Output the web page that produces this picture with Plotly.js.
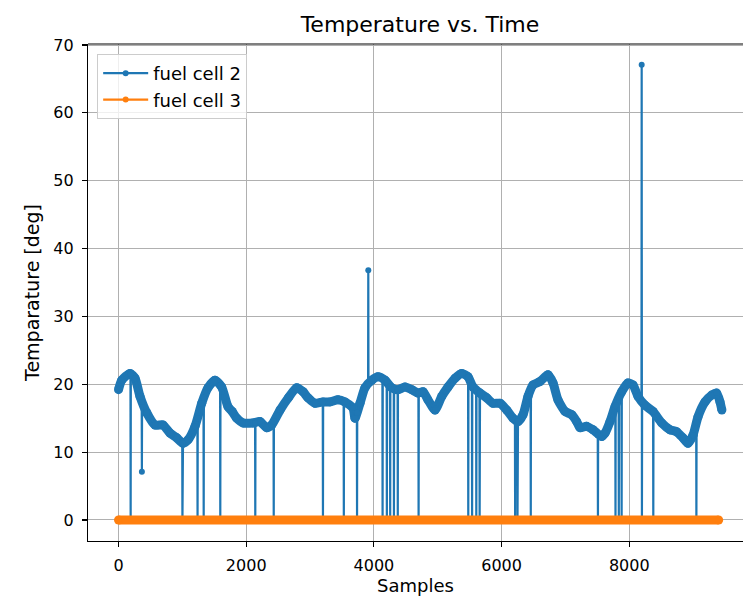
<!DOCTYPE html>
<html>
<head>
<meta charset="utf-8">
<script src="https://cdn.plot.ly/plotly-3.0.1.min.js"></script>
<style>html,body{margin:0;padding:0;background:#fff;}#chart{width:743px;height:600px;}</style>
</head>
<body>
<div id="chart"></div>
<script>
// Fuel cell 2 smooth temperature band (sample, value)
const curveSamples = [0,50,180,258,337,442,572,697,807,912,1010,1088,1198,1303,1402,1511,1616,1715,1780,1851,1950,2107,2216,2321,2399,2530,2659,2791,2890,2968,3078,3203,3312,3438,3547,3672,3704,3782,3860,3966,4064,4174,4279,4377,4487,4592,4691,4769,4847,4957,5062,5161,5271,5375,5474,5552,5662,5767,5865,5975,6080,6179,6257,6335,6413,6492,6601,6727,6805,6883,6993,7098,7176,7228,7333,7431,7568,7620,7698,7776,7881,7980,8058,8137,8246,8371,8507,8637,8742,8841,8919,8998,9076,9186,9290,9369,9421,9450];
const curveValues  = [19.2,20.6,21.6,20.9,18.2,15.8,14.0,14.0,12.8,12.1,11.3,11.8,13.8,17.2,19.5,20.6,19.6,16.7,16.0,15.0,14.3,14.3,14.5,13.6,14.0,16.2,18.0,19.5,18.9,18.0,17.2,17.4,17.4,17.7,17.4,16.5,15.0,17.2,19.5,20.6,21.1,20.6,19.5,19.2,19.6,19.2,18.7,18.9,17.7,16.2,18.2,19.6,20.9,21.6,21.1,19.6,18.7,18.0,17.2,17.2,16.2,15.0,14.5,15.5,18.2,19.9,20.4,21.4,20.2,17.7,16.0,15.5,14.5,13.6,13.8,13.3,12.3,12.8,14.5,16.7,18.9,20.2,19.9,18.2,16.9,16.0,14.3,13.3,13.0,12.1,11.3,12.5,15.2,17.4,18.4,18.7,17.4,16.2];

// Samples where fuel cell 2 drops to 0, and the band level just around each drop
const dropoutSamples = [190,1001,1238,1334,1594,2142,2431,3202,3529,3736,4136,4203,4255,4314,4374,4700,5478,5538,5604,5656,6212,6249,6457,7509,7784,7836,7880,8198,8376,9051];
const dropoutLevels  = [21.5,11.3,15.0,18.0,19.8,14.3,14.5,17.4,17.4,15.8,20.8,20.3,19.7,19.3,19.2,18.7,21.0,19.9,19.2,18.7,14.8,14.6,19.3,12.5,16.9,18.0,18.9,17.5,16.0,14.4];

// Isolated outliers (sample, value, band level around it)
const spikeSamples = [366,3912,8194];
const spikeValues  = [7.1,36.8,67.1];
const spikeLevels  = [17.4,20.0,17.5];

// Fuel cell 3: constant zero over the whole run
const fc3Samples = [0,9400];
const fc3Values  = [0,0];

const xTicks = [0,2000,4000,6000,8000];
const yTicks = [0,10,20,30,40,50,60,70];

const BLUE = '#1f77b4', ORANGE = '#ff7f0e';
const FONT = 'DejaVu Sans, sans-serif';

// merge into a single sample-ordered series for fuel cell 2
const pts = [];
curveSamples.forEach((s,i)=>pts.push([s,curveValues[i]]));
dropoutSamples.forEach((s,i)=>{pts.push([s-3,dropoutLevels[i]]);pts.push([s,0]);pts.push([s+3,dropoutLevels[i]]);});
spikeSamples.forEach((s,i)=>{pts.push([s-3,spikeLevels[i]]);pts.push([s,spikeValues[i]]);pts.push([s+3,spikeLevels[i]]);});
pts.sort((a,b)=>a[0]-b[0]);
const fc2x = pts.map(p=>p[0]), fc2y = pts.map(p=>p[1]);

const traces = [
  {x:curveSamples, y:curveValues, mode:'lines+markers', line:{color:BLUE,width:9,shape:'spline',smoothing:0.6},
   marker:{color:BLUE,size:9}, showlegend:false, hoverinfo:'skip'},
  {x:fc2x, y:fc2y, mode:'lines+markers', name:'fuel cell 2', legendgroup:'a',
   line:{color:BLUE,width:2.2}, marker:{color:BLUE,size:6}},
  {x:fc3Samples, y:fc3Values, mode:'lines+markers', line:{color:ORANGE,width:9}, marker:{color:ORANGE,size:9}, showlegend:false, hoverinfo:'skip'},
  {x:fc3Samples, y:fc3Values, mode:'lines+markers', name:'fuel cell 3', legendgroup:'b',
   line:{color:ORANGE,width:2.2}, marker:{color:ORANGE,size:6}}
];

const axisCommon = {
  showgrid:true, gridcolor:'#b0b0b0', gridwidth:1, zeroline:false,
  showline:true, linecolor:'#000', linewidth:1.2, mirror:false,
  ticks:'outside', ticklen:5, tickwidth:1.2, tickcolor:'#000', ticklabelstandoff:5,
  tickfont:{family:FONT,size:16,color:'#000'}
};

const layout = {
  width:743, height:600,
  paper_bgcolor:'#fff', plot_bgcolor:'#fff',
  margin:{l:88,r:0,t:44,b:59},
  font:{family:FONT,color:'#000'},
  title:{text:'Temperature vs. Time', font:{family:FONT,size:22,color:'#000'},
         x:420/743, xref:'container', xanchor:'center', y:1-24/600, yref:'container', yanchor:'middle'},
  xaxis:Object.assign({}, axisCommon, {range:[-478,9781], tickvals:xTicks,
         title:{text:'Samples', font:{family:FONT,size:18,color:'#000'}, standoff:5}}),
  yaxis:Object.assign({}, axisCommon, {range:[-3.1,70.15], tickvals:yTicks,
         title:{text:'Temparature [deg]', font:{family:FONT,size:19,color:'#000'}, standoff:8}}),
  legend:{x:0.014, y:0.98, xanchor:'left', yanchor:'top',
          bgcolor:'rgba(255,255,255,0.8)', bordercolor:'#cccccc', borderwidth:1,
          font:{family:FONT,size:18,color:'#000'}, tracegroupgap:0, itemwidth:45},
  shapes:[{type:'line', xref:'paper', yref:'paper', x0:0, x1:1, y0:1, y1:1, line:{color:'#000',width:1.2}}],
  showlegend:true
};

Plotly.newPlot('chart', traces, layout, {displayModeBar:false, staticPlot:true});
</script>
</body>
</html>
